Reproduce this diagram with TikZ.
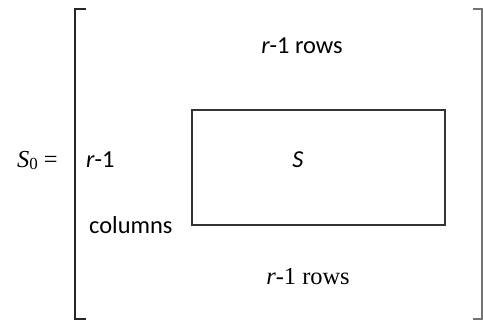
\documentclass[tikz,border=0pt]{standalone}
\usepackage{fontspec}
\setmainfont{Liberation Serif}
\newfontfamily\calib{Carlito}
\begin{document}
\begin{tikzpicture}[x=1bp,y=-1bp,
  bracket/.style={line width=2bp, black!85},
  framebox/.style={draw, line width=2bp, black!80},
  sanslbl/.style={inner sep=0pt, font=\calib\fontsize{24.5}{28}\selectfont},
  seriflbl/.style={inner sep=0pt, font=\fontsize{24.5}{28}\selectfont}]
  \useasboundingbox (0,0) rectangle (483,328);
  % left bracket
  \draw[bracket] (86,9) -- (75,9) -- (75,319) -- (86,319);
  % right bracket
  \draw[bracket, black!55] (473,9) -- (482,9) -- (482,319) -- (473,319);
  % central block S
  \node[framebox, minimum width=253bp, minimum height=115bp, inner sep=0pt] (blk) at (318.5,167.5) {};
  \node[sanslbl, anchor=base] (s) at (298,167) {\itshape S};
  % labels
  \node[seriflbl, anchor=base west] (lhs) at (17,167)
    {\textit{S}\raisebox{-0.25ex}{\fontsize{17}{20}\selectfont 0}\hspace{6bp}=};
  \node[sanslbl, anchor=base] (top) at (302,53) {\itshape r\upshape-1 rows};
  \node[sanslbl, anchor=base west] (rl) at (86,167) {\itshape r\upshape-1};
  \node[sanslbl, anchor=base west] (col) at (89,233) {columns};
  \node[seriflbl, anchor=base] (bot) at (308,284) {\textit{r}-1 rows};
\end{tikzpicture}
\end{document}
